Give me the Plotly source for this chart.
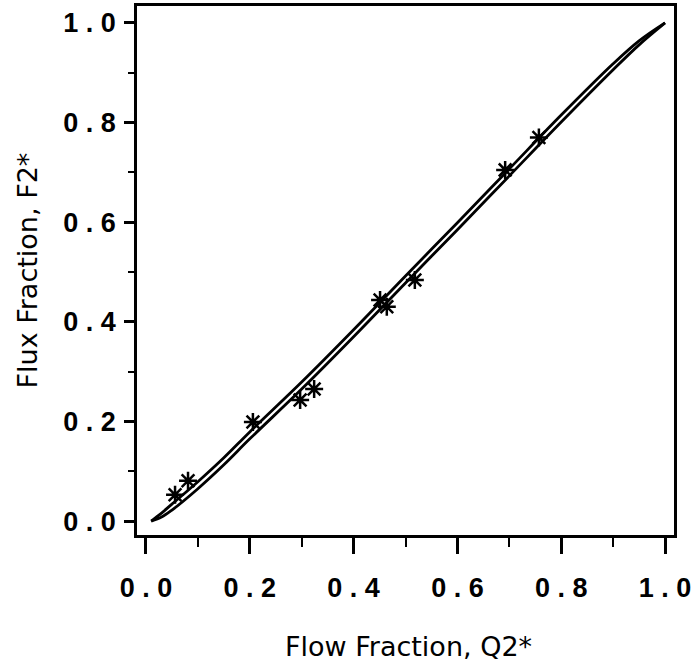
import plotly.graph_objects as go

# Model curves (flow fraction Q2* vs flux fraction F2*)
q_upper = [0.01, 0.03, 0.05, 0.10, 0.15, 0.20, 0.30, 0.40, 0.50, 0.60, 0.70, 0.80, 0.90, 0.95, 1.00]
f_upper = [0.00, 0.016, 0.034, 0.079, 0.127, 0.179, 0.279, 0.384, 0.492, 0.599, 0.707, 0.815, 0.918, 0.964, 1.00]

q_lower = [0.01, 0.03, 0.05, 0.10, 0.15, 0.20, 0.30, 0.40, 0.50, 0.60, 0.70, 0.80, 0.90, 0.95, 1.00]
f_lower = [0.00, 0.008, 0.022, 0.065, 0.113, 0.165, 0.265, 0.370, 0.478, 0.585, 0.693, 0.801, 0.906, 0.956, 1.00]

# Measured points
q_data = [0.056, 0.081, 0.206, 0.297, 0.324, 0.451, 0.464, 0.518, 0.692, 0.757]
f_data = [0.053, 0.081, 0.199, 0.243, 0.265, 0.444, 0.430, 0.484, 0.705, 0.770]

tick_vals = [0.0, 0.2, 0.4, 0.6, 0.8, 1.0]
tick_labels = ["0 . 0", "0 . 2", "0 . 4", "0 . 6", "0 . 8", "1 . 0"]
minor_vals = [0.1, 0.3, 0.5, 0.7, 0.9]

fig = go.Figure()
for qs, fs in ((q_upper, f_upper), (q_lower, f_lower)):
    fig.add_trace(go.Scatter(x=qs, y=fs, mode="lines", line=dict(color="black", width=2.8, shape="spline"),
                             showlegend=False, hoverinfo="skip"))
fig.add_trace(go.Scatter(x=q_data, y=f_data, mode="markers",
                         marker=dict(symbol="asterisk-open", size=15, color="black",
                                     line=dict(color="black", width=2.5)),
                         showlegend=False))

tick_font = dict(family="Liberation Sans", size=27, color="black", weight="bold")
axis_common = dict(tickvals=tick_vals, ticktext=tick_labels, ticks="outside", tickcolor="black",
                   showline=True, linecolor="black", linewidth=2.5, mirror=True, automargin=False,
                   showgrid=False, zeroline=False, tickfont=tick_font, ticklabeloverflow="allow")

fig.update_xaxes(range=[-0.0173, 1.0173], ticklen=16, tickwidth=2.5, ticklabelstandoff=11,
                 minor=dict(tickvals=minor_vals, ticks="outside", ticklen=9, tickwidth=2, tickcolor="black"),
                 **axis_common)
fig.update_yaxes(range=[-0.028, 1.034], ticklen=10, tickwidth=2.5, ticklabelstandoff=3,
                 minor=dict(tickvals=minor_vals, ticks="outside", ticklen=6, tickwidth=2, tickcolor="black"),
                 **axis_common)

title_font = dict(family="DejaVu Sans", size=27, color="black")
fig.add_annotation(text="Flow Fraction, Q2*", xref="paper", yref="paper", x=0.5, y=0,
                   xanchor="center", yanchor="middle", yshift=-111, xshift=3, showarrow=False, font=title_font)
fig.add_annotation(text="Flux Fraction, F2*", xref="paper", yref="paper", x=0, y=0.5, textangle=-90,
                   xanchor="center", yanchor="middle", xshift=-110, showarrow=False, font=title_font)

fig.update_layout(width=691, height=671, margin=dict(l=137, r=17, t=6, b=136),
                  plot_bgcolor="white", paper_bgcolor="white")

fig.write_html("out.html")
